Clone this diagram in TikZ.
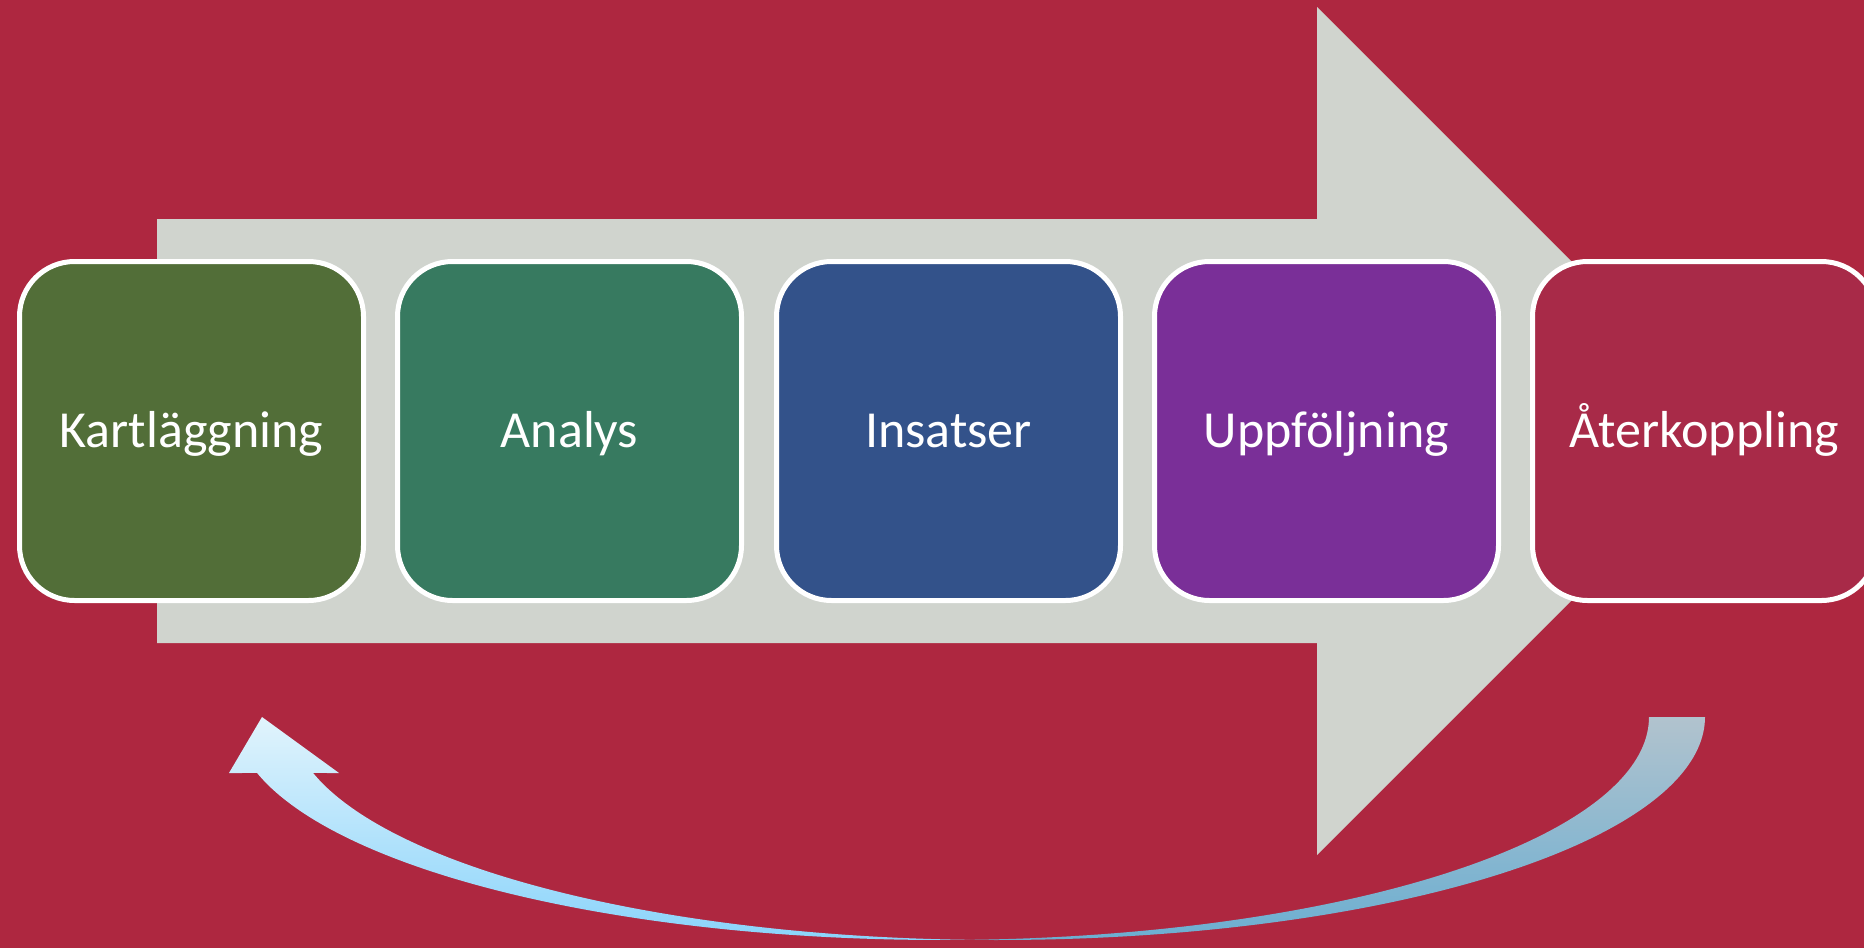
\documentclass[tikz,border=0pt]{standalone}
\usepackage{fontspec}
\setmainfont{Carlito}
\begin{document}
\begin{tikzpicture}[x=1pt,y=-1pt]
\definecolor{bg}{HTML}{AE2740}
\definecolor{arrowgray}{HTML}{D0D4CE}
\definecolor{cA}{HTML}{526E38}
\definecolor{cB}{HTML}{377A60}
\definecolor{cC}{HTML}{33528A}
\definecolor{cD}{HTML}{7A2F98}
\definecolor{cE}{HTML}{A82A48}
\definecolor{lTop}{HTML}{E2F4FC}
\definecolor{lBot}{HTML}{88D3FB}
\definecolor{rTop}{HTML}{B2C3CE}
\definecolor{rBot}{HTML}{6AAED1}
\tikzset{
  stage/.style={draw=white, line width=5pt, rounded corners=55pt,
    minimum width=344pt, minimum height=339pt, inner sep=0pt,
    text=white, font=\fontsize{52}{60}\selectfont,
    text height=33.5pt, text depth=0pt}
}
\useasboundingbox (0,0) rectangle (1864,948);
\fill[bg] (0,0) rectangle (1864,948);
% big process arrow
\fill[arrowgray] (157,219) -- (1317,219) -- (1317,7) -- (1741,431)
  -- (1317,855) -- (1317,643) -- (157,643) -- cycle;
% stages
\node[stage, fill=cA] (kart)   at (191.5,431) {Kartläggning};
\node[stage, fill=cB] (analys) at (569.5,431) {Analys};
\node[stage, fill=cC] (insats) at (948.5,431) {Insatser};
\node[stage, fill=cD] (uppf)   at (1326.5,431) {Uppföljning};
\node[stage, fill=cE] (ater)   at (1704.5,431) {Återkoppling};
% curved feedback arrow
\begin{scope}
\clip plot[domain=0:92.27,samples=90] ({997.7+707.3*cos(\x)},{717+223*sin(\x)})
  -- plot[domain=87.73:165.46,samples=90] ({941.7+707.3*cos(\x)},{717+223*sin(\x)})
  -- (229,773) -- (262,717) -- (339,773)
  -- plot[domain=165.46:92.27,samples=90] ({997.7+707.3*cos(\x)},{717+223*sin(\x)})
  -- plot[domain=87.73:0,samples=90] ({941.7+707.3*cos(\x)},{717+223*sin(\x)})
  -- cycle;
\shade[top color=lTop, bottom color=lBot] (200,715) rectangle (970,945);
\shade[top color=rTop, bottom color=rBot] (970,715) rectangle (1720,945);
\end{scope}
\end{tikzpicture}
\end{document}
